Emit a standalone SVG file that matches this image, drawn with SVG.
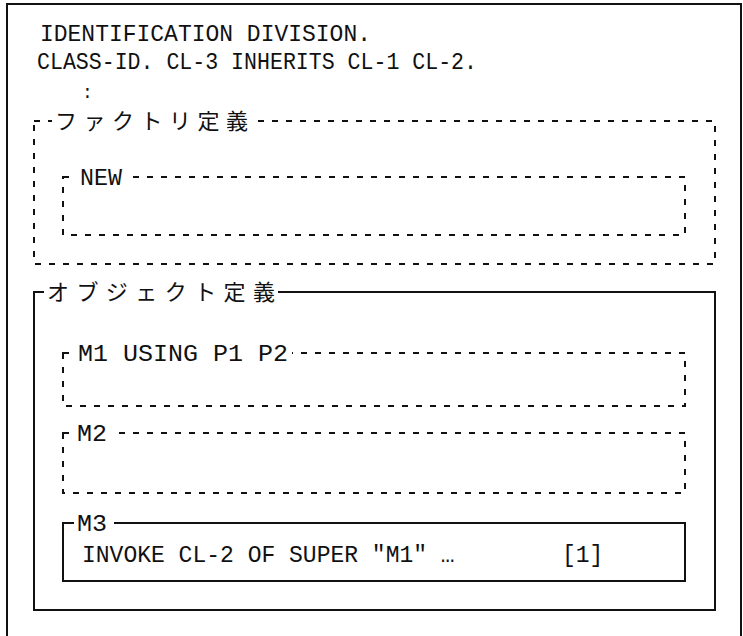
<svg xmlns="http://www.w3.org/2000/svg" width="743" height="636" viewBox="0 0 743 636">
<style>
.t{font-family:"Liberation Mono","DejaVu Sans Mono",monospace;font-size:23px;fill:#111}
.j{font-family:"Noto Sans CJK JP","Noto Sans CJK SC",sans-serif;font-size:22px;fill:#111}
.solid{fill:none;stroke:#111;stroke-width:2}
.dash{fill:none;stroke:#111;stroke-width:2;stroke-dasharray:6 8}
.bg{fill:#fff}
</style>
<rect width="743" height="636" fill="#fff"/>
<path class="solid" d="M7,640 V4 H741 V640"/>
<g id="header">
<text class="t" x="40" y="41" textLength="331" lengthAdjust="spacingAndGlyphs">IDENTIFICATION DIVISION.</text>
<text class="t" x="37" y="69" textLength="440" lengthAdjust="spacingAndGlyphs">CLASS-ID. CL-3 INHERITS CL-1 CL-2.</text>
<text class="t" x="82" y="98" style="font-size:18px">:</text>
</g>
<g id="factory">
<rect class="dash" x="34" y="121" width="681" height="143"/>
<rect class="bg" x="52" y="108" width="200" height="26"/>
<text class="j" x="55" y="129" textLength="193" lengthAdjust="spacing">ファクトリ定義</text>
</g>
<g id="new">
<rect class="dash" x="63" y="177" width="622" height="58"/>
<rect class="bg" x="77" y="166" width="51" height="22"/>
<text class="t" x="80" y="185" textLength="42" lengthAdjust="spacingAndGlyphs">NEW</text>
</g>
<g id="object">
<rect class="solid" x="34" y="292" width="681" height="318"/>
<rect class="bg" x="44" y="279" width="234" height="26"/>
<text class="j" x="47" y="300" textLength="228" lengthAdjust="spacing">オブジェクト定義</text>
</g>
<g id="m1">
<rect class="dash" x="63" y="353" width="622" height="53"/>
<rect class="bg" x="76" y="342" width="216" height="22"/>
<text class="t" x="78" y="361" textLength="210" lengthAdjust="spacingAndGlyphs">M1 USING P1 P2</text>
</g>
<g id="m2">
<rect class="dash" x="63" y="433" width="622" height="60"/>
<rect class="bg" x="76" y="422" width="36" height="22"/>
<text class="t" x="77" y="441" textLength="30" lengthAdjust="spacingAndGlyphs">M2</text>
</g>
<g id="m3">
<rect class="solid" x="63" y="523" width="622" height="58"/>
<rect class="bg" x="74" y="512" width="40" height="22"/>
<text class="t" x="77" y="531" textLength="30" lengthAdjust="spacingAndGlyphs">M3</text>
<text class="t" x="82" y="562">INVOKE CL-2 OF SUPER "M1" …</text>
<text class="t" x="562" y="562">[1]</text>
</g>
<g id="connectors"></g>
</svg>
